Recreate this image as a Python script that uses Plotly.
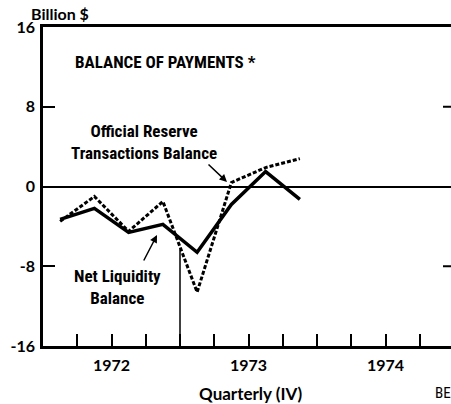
import plotly.graph_objects as go

# ---- data ----
quarters = ["1972 Q1", "1972 Q2", "1972 Q3", "1972 Q4",
            "1973 Q1", "1973 Q2", "1973 Q3", "1973 Q4"]
net_liquidity = [-3.3, -2.2, -4.6, -3.8, -6.6, -1.8, 1.5, -1.3]
official_reserve = [-3.5, -1.0, -4.5, -1.5, -10.6, 0.4, 1.9, 2.8]
year_labels = ["1972", "1973", "1974"]
y_ticks = [16, 8, 0, -8, -16]
y_tick_text = ["16", "8", "0", "-8", "-16"]

xpos = [i + 0.5 for i in range(len(quarters))]

W, H = 451, 404
L, T, B = 43, 27, 58
plot_w = W - L
plot_h = H - T - B
q_px = 34.25
x_max = plot_w / q_px

def px(xp):
    return (xp - L) / plot_w

def py(yp):
    return (H - B - yp) / plot_h

cond = "Roboto Condensed, Liberation Sans Narrow, Noto Sans Condensed, Open Sans Condensed, DejaVu Sans Condensed, Arial Narrow, Roboto, sans-serif"
geo = "Lato, DejaVu Sans, sans-serif"

fig = go.Figure()
fig.add_trace(go.Scatter(x=xpos, y=official_reserve, mode="lines",
                         line=dict(color="black", width=3, dash="4px,2px"),
                         name="Official Reserve Transactions Balance"))
fig.add_trace(go.Scatter(x=xpos, y=net_liquidity, mode="lines",
                         line=dict(color="black", width=3.5),
                         name="Net Liquidity Balance"))

tickvals = list(range(1, 12))
ticktext = [year_labels[t // 4] if t % 4 == 2 else "" for t in tickvals]

fig.update_layout(
    width=W, height=H,
    margin=dict(l=L, r=0, t=T, b=B, autoexpand=False),
    paper_bgcolor="white", plot_bgcolor="white",
    showlegend=False,
    xaxis=dict(range=[0, x_max], showgrid=False, zeroline=False,
               showline=True, linecolor="black", linewidth=2.5, mirror=True,
               ticks="inside", ticklen=12, tickwidth=2, tickcolor="black",
               tickvals=tickvals, ticktext=ticktext,
               tickfont=dict(family=geo, size=16, color="black", weight="bold"),
               ticklabelstandoff=3),
    yaxis=dict(range=[-16, 16], showgrid=False, zeroline=True,
               zerolinecolor="black", zerolinewidth=2,
               showline=True, linecolor="black", linewidth=2.5,
               ticks="inside", ticklen=12, tickwidth=2, tickcolor="black",
               tickvals=y_ticks, ticktext=y_tick_text,
               tickfont=dict(family=geo, size=16, color="black", weight="bold"),
               ticklabelstandoff=2),
)

for yv in [8, -8]:
    fig.add_shape(type="line", xref="paper", yref="y",
                  x0=px(443), x1=1.0, y0=yv, y1=yv,
                  line=dict(color="black", width=2))

fig.add_shape(type="line", xref="x", yref="y", x0=4.0, x1=4.0, y0=-6.3, y1=-16,
              line=dict(color="black", width=1.5))

def txt(x, y, text, font, xanchor="center"):
    return dict(x=px(x), y=py(y), xref="paper", yref="paper", text=text,
                xanchor=xanchor, yanchor="middle", showarrow=False, font=font)

ann = [
    txt(60, 14, "Billion $", dict(family=geo, size=16, color="black", weight="bold")),
    txt(73, 62, "BALANCE OF PAYMENTS *", dict(family=cond, size=17, color="black", weight="bold"), "left"),
    txt(144, 142, "Official Reserve<br>Transactions Balance", dict(family=cond, size=17, color="black", weight="bold")),
    txt(117, 287, "Net Liquidity<br>Balance", dict(family=cond, size=17, color="black", weight="bold")),
    txt(250, 393, "Quarterly (IV)", dict(family=geo, size=17, color="black", weight="bold")),
    txt(433, 393, "BEA", dict(family=cond, size=15, color="black"), "left"),
]
ann.append(dict(x=px(227), y=py(182), xref="paper", yref="paper", text="",
                showarrow=True, ax=-20, ay=-19, arrowhead=2, arrowsize=1, arrowwidth=1.5,
                arrowcolor="black"))
ann.append(dict(x=px(157), y=py(235), xref="paper", yref="paper", text="",
                showarrow=True, ax=-14, ay=27, arrowhead=2, arrowsize=1, arrowwidth=1.5,
                arrowcolor="black"))
fig.update_layout(annotations=ann)

fig.write_html("out.html", config={"displayModeBar": False},
               post_script="document.body.style.margin='0';")
